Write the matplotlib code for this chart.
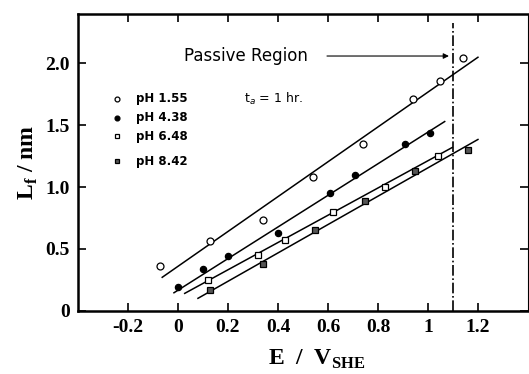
import matplotlib.pyplot as plt

plt.rcParams['mathtext.fontset'] = 'custom'
plt.rcParams['mathtext.rm'] = 'Liberation Serif'
plt.rcParams['mathtext.bf'] = 'Liberation Serif:bold'
plt.rcParams['mathtext.it'] = 'DejaVu Sans:italic'

# dados
ph155_x = [-0.07, 0.13, 0.34, 0.54, 0.74, 0.94, 1.05, 1.14]
ph155_y = [0.36, 0.56, 0.73, 1.08, 1.35, 1.71, 1.86, 2.04]
ph438_x = [0.0, 0.10, 0.20, 0.40, 0.61, 0.71, 0.91, 1.01]
ph438_y = [0.19, 0.34, 0.44, 0.63, 0.95, 1.10, 1.35, 1.44]
ph648_x = [0.12, 0.32, 0.43, 0.62, 0.83, 1.04]
ph648_y = [0.25, 0.45, 0.57, 0.80, 1.00, 1.25]
ph842_x = [0.13, 0.34, 0.55, 0.75, 0.95, 1.16]
ph842_y = [0.17, 0.38, 0.65, 0.89, 1.13, 1.30]

# retas ajustadas (extremos)
fit155_x, fit155_y = [-0.063, 1.20], [0.27, 2.05]
fit438_x, fit438_y = [-0.016, 1.067], [0.145, 1.53]
fit648_x, fit648_y = [0.027, 1.097], [0.14, 1.32]
fit842_x, fit842_y = [0.08, 1.20], [0.10, 1.385]

labels = ['pH 1.55', 'pH 4.38', 'pH 6.48', 'pH 8.42']
passive_e = 1.1

fig = plt.figure(figsize=(5.29, 3.74), dpi=100)
ax = fig.add_axes([0.1474, 0.1693, 0.8506, 0.7933])

for fx, fy in [(fit155_x, fit155_y), (fit438_x, fit438_y), (fit648_x, fit648_y), (fit842_x, fit842_y)]:
    ax.plot(fx, fy, color='black', lw=1.1)

styles = [
    dict(marker='o', mfc='white', mec='black', ms=5, mew=0.9),
    dict(marker='o', mfc='black', mec='black', ms=4.5, mew=0.9),
    dict(marker='s', mfc='white', mec='black', ms=5, mew=0.9),
    dict(marker='s', mfc='#555555', mec='black', ms=5, mew=0.9),
]
series = [(ph155_x, ph155_y), (ph438_x, ph438_y), (ph648_x, ph648_y), (ph842_x, ph842_y)]
for (sx, sy), st in zip(series, styles):
    ax.plot(sx, sy, ls='none', **st)

# legenda manual
leg_y = [1.715, 1.562, 1.409, 1.21]
for lab, ly, st in zip(labels, leg_y, styles):
    ax.plot([-0.244], [ly], ls='none', **{**st, 'ms': 3.5})
    ax.text(-0.168, ly, lab, fontsize=8.5, fontweight='bold', va='center', ha='left',
            family='DejaVu Sans')

ax.text(0.265, 1.71, 't$_a$ = 1 hr.', fontsize=9, va='center', ha='left', family='DejaVu Sans')

# região passiva
ax.axvline(passive_e, color='black', lw=1.2, ls='-.', ymax=0.97)
ax.text(0.024, 2.06, 'Passive Region', fontsize=12, va='center', ha='left', family='DejaVu Sans')
ax.annotate('', xy=(passive_e - 0.005, 2.06), xytext=(0.585, 2.06),
            arrowprops=dict(arrowstyle='-|>', color='black', lw=0.8, mutation_scale=8))

ax.set_xlim(-0.4, 1.4)
ax.set_ylim(0, 2.4)
ax.set_xticks([-0.2, 0, 0.2, 0.4, 0.6, 0.8, 1.0, 1.2])
ax.set_xticklabels(['-0.2', '0', '0.2', '0.4', '0.6', '0.8', '1', '1.2'])
ax.set_yticks([0, 0.5, 1.0, 1.5, 2.0])
ax.set_yticklabels(['0', '0.5', '1.0', '1.5', '2.0'])
ax.tick_params(direction='in', length=6, width=1.2, top=True, right=True,
               labelsize=14, pad=6)
for lab in ax.get_xticklabels() + ax.get_yticklabels():
    lab.set_family('Liberation Serif')
    lab.set_fontweight('bold')

for s in ['left', 'bottom', 'top']:
    ax.spines[s].set_linewidth(1.8)
ax.spines['right'].set_linewidth(0.8)

ax.set_xlabel('E  /  V$_{\\mathbf{SHE}}$', fontsize=17, fontweight='bold', family='Liberation Serif')
ax.set_ylabel('L$_{\\mathbf{f}}$ / nm', fontsize=17, fontweight='bold', family='Liberation Serif')
ax.xaxis.set_label_coords(0.53, -0.125)
ax.yaxis.set_label_coords(-0.085, 0.5)

fig.savefig('out.png', dpi=100)
